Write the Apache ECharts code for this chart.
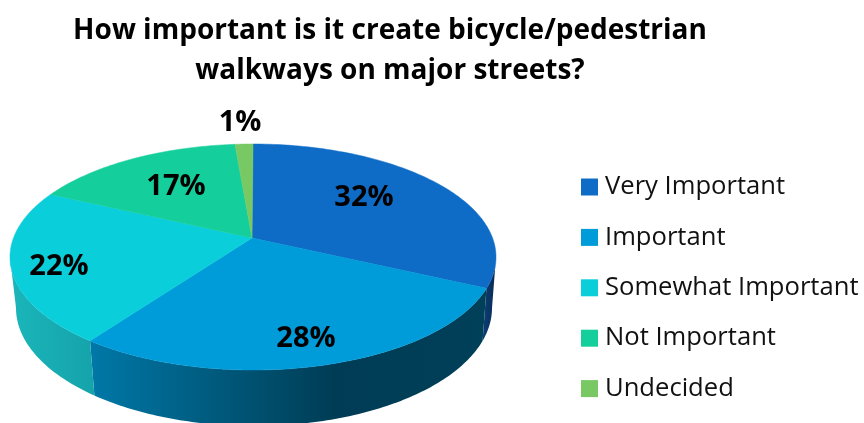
<!DOCTYPE html>
<html>
<head>
<meta charset="utf-8">
<style>
  html, body { margin: 0; padding: 0; background: #fff; }
  #chart { width: 864px; height: 423px; }
</style>
<script src="https://cdn.jsdelivr.net/npm/echarts@6/dist/echarts.min.js"></script>
</head>
<body>
<div id="chart"></div>
<script>
var categories = ['Very Important', 'Important', 'Somewhat Important', 'Not Important', 'Undecided']
var values = [32, 28, 22, 16.6, 1.4]
var colors = ['#0f6cc6', '#009bd9', '#0bcedb', '#14cf9b', '#78c864']
var titleText = 'How important is it create bicycle/pedestrian\nwalkways on major streets?'

// side wall gradients, left to right
var wallStops = [
  [[0, '#0a3f78'], [1, '#0a2a50']],
  [[0, '#0078a8'], [0.42, '#00506f'], [0.62, '#003c55'], [1, '#004058']],
  [[0, '#1ab6ba'], [1, '#15a3aa']],
  [[0, '#0fa078'], [1, '#0fa078']],
  [[0, '#5a9a4a'], [1, '#5a9a4a']]
]
// where each percent label sits
var labelSpots = [[364, 198], [306, 339], [59, 267], [176, 187], [240, 123]]

var fontName = '"Open Sans", sans-serif'
var top3d = {cx: 253, cy: 257, rx: 243, ry: 113}
var bottom3d = {cx: 254, cy: 308, rx: 238, ry: 118}
var apex = [252, 238]
var perspective = 0.844 // near side of the pie looks bigger than the far side

var total = 0
for (var n = 0; n < values.length; n++) {
  total += values[n]
}

// true angle of the slice -> angle on the drawn ellipse, measured clockwise from top
function skew (deg) {
  var half = deg / 2 * Math.PI / 180
  if (Math.abs(Math.cos(half)) < 1e-6) return deg
  var out = Math.atan(perspective * Math.tan(half)) * 2 * 180 / Math.PI
  if (deg > 180) out += 360
  return out
}

function rimPoint (e, deg) {
  var r = deg * Math.PI / 180
  return [e.cx + e.rx * Math.sin(r), e.cy - e.ry * Math.cos(r)]
}

function arcPoints (e, from, to) {
  var pts = []
  var steps = Math.max(2, Math.ceil(Math.abs(to - from)))
  for (var i = 0; i <= steps; i++) {
    pts.push(rimPoint(e, from + (to - from) * i / steps))
  }
  return pts
}

function renderSlice (params, api) {
  var idx = params.seriesIndex
  var before = 0
  for (var k = 0; k < idx; k++) {
    before += values[k]
  }
  var from = skew(before / total * 360)
  var to = skew((before + api.value(0)) / total * 360)
  var children = []

  // only the front half of the rim has a visible wall
  var wallFrom = Math.max(from, 90)
  var wallTo = Math.min(to, 270)
  if (wallTo > wallFrom) {
    var stops = wallStops[idx].map(function (s) {
      return {offset: s[0], color: s[1]}
    })
    children.push({
      type: 'polygon',
      shape: {points: arcPoints(top3d, wallFrom, wallTo).concat(arcPoints(bottom3d, wallTo, wallFrom))},
      style: {fill: new echarts.graphic.LinearGradient(0, 0, 1, 0, stops)}
    })
  }

  children.push({
    type: 'polygon',
    shape: {points: [apex].concat(arcPoints(top3d, from, to))},
    style: {fill: colors[idx], stroke: colors[idx], lineWidth: 0.5}
  })

  children.push({
    type: 'text',
    z2: 10,
    x: labelSpots[idx][0],
    y: labelSpots[idx][1],
    style: {
      text: Math.round(api.value(0)) + '%',
      fill: '#000',
      font: 'bold 29px ' + fontName,
      align: 'center',
      verticalAlign: 'middle'
    }
  })
  return {type: 'group', children: children}
}

var series = categories.map(function (name, i) {
  return {
    name: name,
    type: 'custom',
    coordinateSystem: 'none',
    renderItem: renderSlice,
    itemStyle: {color: colors[i]},
    data: [[values[i]]],
    silent: true
  }
})

var myChart = echarts.init(document.getElementById('chart'), null, {renderer: 'canvas'})
myChart.setOption({
  animation: false,
  backgroundColor: '#fff',
  title: {
    text: titleText,
    left: 385,
    top: 6,
    textAlign: 'center',
    textStyle: {
      color: '#000',
      fontFamily: fontName,
      fontWeight: 'bold',
      fontSize: 28,
      lineHeight: 40
    }
  },
  legend: {
    orient: 'vertical',
    left: 581,
    top: 173,
    padding: 0,
    icon: 'rect',
    itemWidth: 17,
    itemHeight: 17,
    itemGap: 22.4,
    data: categories,
    selectedMode: false,
    textStyle: {
      color: '#111',
      fontFamily: fontName,
      fontSize: 25.6,
      padding: [0, 0, 0, 2],
      lineHeight: 28
    }
  },
  series: series
})
</script>
</body>
</html>
